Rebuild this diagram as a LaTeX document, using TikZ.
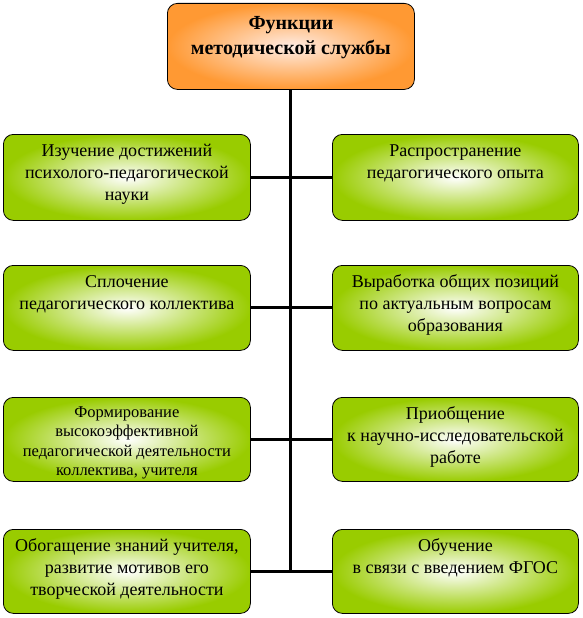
\documentclass[tikz,border=0pt]{standalone}
\usepackage{fontspec}
\setmainfont{Liberation Serif}
\usepackage{tikz}
\usetikzlibrary{shapes,backgrounds}

\definecolor{leafgreen}{RGB}{153,204,0}
\definecolor{rootorange}{RGB}{255,153,51}
\definecolor{rootcore}{RGB}{255,236,228}

% text block: width, height, first baseline, body
\newcommand{\boxtxt}[4]{\parbox[c][#2pt][t]{#1pt}{\centering\rule{0pt}{#3pt}#4}}

\begin{document}
\begin{tikzpicture}[x=1pt, y=-1pt,
  leaf/.style={draw=black, line width=.8pt, rounded corners=10pt, shading=radial, inner color=white, outer color=leafgreen, inner sep=0pt, anchor=north west, font=\fontsize{18}{22}\selectfont},
  root/.style={draw=black, line width=.8pt, rounded corners=10pt, shading=radial, inner color=rootcore, outer color=rootorange, inner sep=0pt, anchor=north west, font=\fontsize{20}{25}\selectfont\bfseries},
  link/.style={line width=3pt}]
\useasboundingbox (0,0) rectangle (582,618);

\node[root] (root) at (167,3) {\boxtxt{247}{86}{26}{Функции\\методической службы}};

\node[leaf] (l1) at (3,134) {\boxtxt{247}{86}{22}{Изучение достижений\\психолого-педагогической\\науки}};
\node[leaf] (r1) at (332,134) {\boxtxt{246}{86}{22}{Распространение\\педагогического опыта}};

\node[leaf] (l2) at (3,265) {\boxtxt{247}{85}{22}{Сплочение\\педагогического коллектива}};
\node[leaf] (r2) at (332,265) {\boxtxt{246}{85}{22}{Выработка общих позиций\\по актуальным вопросам\\образования}};

\node[leaf, font=\fontsize{16.5}{19.5}\selectfont] (l3) at (3,397) {\boxtxt{247}{84}{20}{Формирование\\высокоэффективной\\педагогической деятельности\\коллектива, учителя}};
\node[leaf] (r3) at (332,397) {\boxtxt{246}{84}{22}{Приобщение\\к научно-исследовательской\\работе}};

\node[leaf] (l4) at (3,529) {\boxtxt{247}{84}{22}{Обогащение знаний учителя,\\развитие мотивов его\\творческой деятельности}};
\node[leaf] (r4) at (332,529) {\boxtxt{246}{84}{22}{Обучение\\в связи с введением ФГОС}};

\begin{pgfonlayer}{background}
\coordinate (trunk) at (root.south |- l4.east);
\draw[link] (root.south) -- (trunk);
\draw[link] (l1.east) -- (r1.west);
\draw[link] (l2.east) -- (r2.west);
\draw[link] (l3.east) -- (r3.west);
\draw[link] (l4.east) -- (r4.west);
\end{pgfonlayer}
\end{tikzpicture}
\end{document}
